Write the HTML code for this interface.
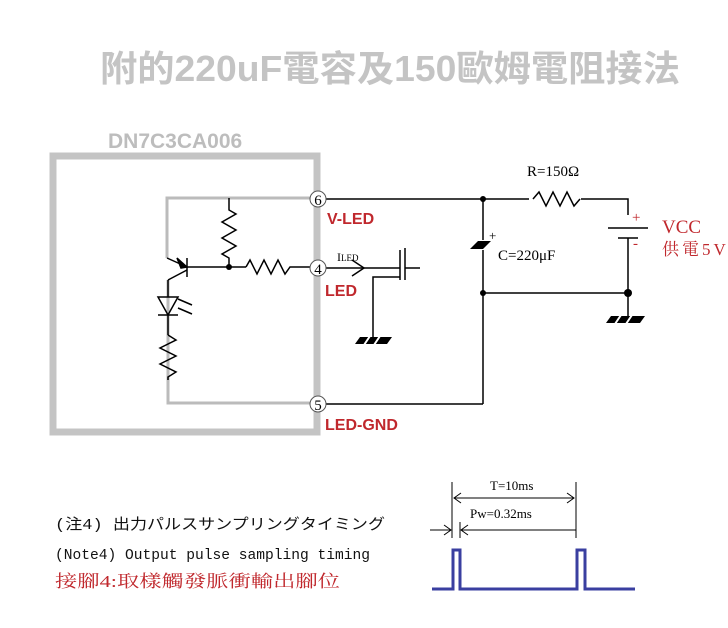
<!DOCTYPE html>
<html><head><meta charset="utf-8"><style>
body{margin:0;background:#fff;width:728px;height:628px;overflow:hidden}
svg{display:block}
.s{font-family:"Liberation Serif","Noto Serif CJK SC",serif}
</style></head><body>
<svg width="728" height="628" viewBox="0 0 728 628" xmlns="http://www.w3.org/2000/svg">
<text x="100" y="81" font-family="Liberation Sans,'Noto Sans CJK TC',sans-serif" font-weight="bold" font-size="36" fill="#c4c4c4" textLength="580" lengthAdjust="spacingAndGlyphs">附的220uF電容及150歐姆電阻接法</text>
<text x="108" y="148" font-family="Liberation Sans,sans-serif" font-weight="bold" font-size="21" fill="#bdbdbd">DN7C3CA006</text>
<rect x="53" y="156" width="264" height="276" fill="none" stroke="#c4c4c4" stroke-width="7"/>
<g fill="none" stroke="#bbbbbb" stroke-width="3">
<polyline points="311,198 167,198 167,258"/>
<polyline points="168,280 168,403 311,403"/>
</g>
<g fill="none" stroke="#000" stroke-width="1.5">
<line x1="167" y1="258" x2="187" y2="267"/>
<polygon points="187,267 177,258 181,268" fill="#000"/>
<line x1="187" y1="258" x2="187" y2="277"/>
<line x1="187" y1="270" x2="168" y2="280"/>
<line x1="187" y1="267" x2="246" y2="267"/>
<polyline points="246,267 250,260 257,274 264,260 271,274 278,260 285,274 290,267 311,267"/>
<polyline points="229,198 229,210 236,214 222,222 236,230 222,238 236,246 222,254 229,258 229,267"/>
<polygon points="158,297 178,297 168,315" />
<line x1="158" y1="315" x2="178" y2="315"/>
<line x1="168" y1="280" x2="168" y2="297"/>
<line x1="168" y1="315" x2="168" y2="335"/>
<polyline points="168,335 176,340 160,348 176,356 160,364 176,372 168,377 168,380"/>
<line x1="178" y1="299" x2="192" y2="305"/><line x1="178" y1="308" x2="192" y2="314"/>
<polyline points="325,199 628,199 628,215"/>
<polyline points="628,238 628,293 483,293"/>
<line x1="628" y1="293" x2="628" y2="318"/>
<line x1="483" y1="199" x2="483" y2="240"/>
<line x1="483" y1="250" x2="483" y2="404"/>
<line x1="325" y1="404" x2="483" y2="404"/>
<line x1="325" y1="268" x2="400" y2="268"/>
<polyline points="352,260 364,268 352,276"/>
<line x1="400" y1="250" x2="400" y2="280"/>
<line x1="405" y1="248" x2="405" y2="280"/>
<line x1="405" y1="268" x2="420" y2="268"/>
<polyline points="400,277 373,277 373,338"/>
</g>
<rect x="529" y="195" width="52" height="8" fill="#fff"/>
<polyline points="533,199 539,192 546,206 553,192 560,206 567,192 574,206 580,199" fill="none" stroke="#000" stroke-width="1.5"/>
<line x1="608" y1="228" x2="648" y2="228" stroke="#000" stroke-width="1.5"/>
<line x1="618" y1="238" x2="638" y2="238" stroke="#000" stroke-width="1.5"/>
<polygon points="470,249 478,241 491,241 483,249" fill="#000"/>
<polygon points="355,344 360,337 392,337 387,344" fill="#000"/>
<polygon points="606,323 611,316 645,316 640,323" fill="#000"/>
<g stroke="#fff" stroke-width="2"><line x1="364" y1="345" x2="370" y2="336"/><line x1="374" y1="345" x2="380" y2="336"/><line x1="615" y1="324" x2="621" y2="315"/><line x1="626" y1="324" x2="632" y2="315"/></g>
<g fill="#000"><circle cx="229" cy="267" r="3"/><circle cx="483" cy="199" r="3"/><circle cx="483" cy="293" r="3"/><circle cx="628" cy="293" r="4"/></g>
<g class="s" font-size="18" fill="#000" text-anchor="middle">
<circle cx="318" cy="199" r="8" fill="#fff" stroke="#555"/><text x="318" y="205" font-size="15">6</text>
<circle cx="318" cy="268" r="8" fill="#fff" stroke="#555"/><text x="318" y="274" font-size="15">4</text>
<circle cx="318" cy="404" r="8" fill="#fff" stroke="#555"/><text x="318" y="410" font-size="15">5</text>
</g>
<g font-family="Liberation Sans,sans-serif" font-weight="bold" font-size="16" fill="#c0282d">
<text x="327" y="224">V-LED</text><text x="325" y="296">LED</text><text x="325" y="430">LED-GND</text>
</g>
<text x="337" y="261" class="s" font-size="12">I<tspan font-size="9">LED</tspan></text>
<text x="527" y="176" class="s" font-size="15">R=150Ω</text>
<text x="489" y="240" class="s" font-size="13">+</text>
<text x="498" y="260" class="s" font-size="15">C=220μF</text>
<g class="s" fill="#c0282d"><text x="632" y="222" font-size="15">+</text><text x="633" y="248" font-size="15">-</text>
<text x="662" y="233" font-size="19">VCC</text><text x="662" y="255" font-size="17" letter-spacing="3">供電5V</text></g>
<g font-family="Liberation Mono,'Noto Sans CJK JP',monospace" font-size="15" fill="#111">
<text x="55" y="529" textLength="330" lengthAdjust="spacingAndGlyphs">(注4) 出力パルスサンプリングタイミング</text>
<text x="55" y="559" textLength="315" lengthAdjust="spacingAndGlyphs">(Note4) Output pulse sampling timing</text></g>
<text x="55" y="587" font-family="Liberation Serif,'Noto Serif CJK SC',serif" font-size="17" fill="#c0282d" textLength="285" lengthAdjust="spacingAndGlyphs">接腳4:取樣觸發脈衝輸出腳位</text>
<polyline points="432,589 453,589 453,550 460,550 460,589 577,589 577,550 585,550 585,589 635,589" fill="none" stroke="#3a3fa0" stroke-width="3"/>
<g stroke="#000" stroke-width="1" fill="none">
<line x1="452" y1="482" x2="452" y2="538"/><line x1="576" y1="482" x2="576" y2="538"/>
<line x1="460" y1="522" x2="460" y2="538"/>
<line x1="454" y1="498" x2="574" y2="498"/><polyline points="461,493 454,498 461,503"/><polyline points="567,493 574,498 567,503"/>
<line x1="461" y1="530" x2="576" y2="530"/><polyline points="468,525 461,530 468,535"/>
<line x1="430" y1="530" x2="451" y2="530"/><polyline points="444,525 451,530 444,535"/>
</g>
<text x="490" y="490" class="s" font-size="13">T=10ms</text>
<text x="470" y="518" class="s" font-size="13">Pw=0.32ms</text>
</svg>
</body></html>
